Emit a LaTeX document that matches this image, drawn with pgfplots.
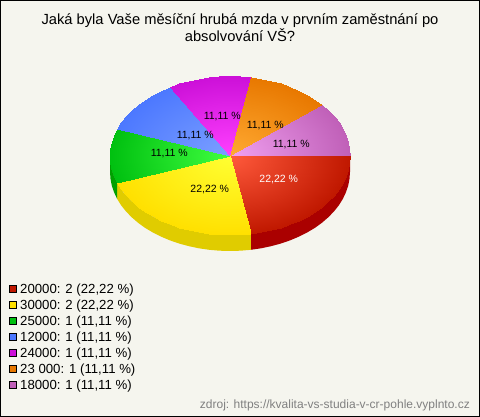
\documentclass[border=0pt]{standalone}
\usepackage{pgfplots}
\usepackage{pgfplotstable}
\usepackage{fontspec}
\setmainfont{Liberation Sans}
\pgfplotsset{compat=1.18}
\definecolor{bgc}{HTML}{F5F5EE}
\pgfplotsset{
 colormap={cred}{rgb255=(192,24,0) rgb255=(255,90,60)},
 colormap={cyel}{rgb255=(255,224,0) rgb255=(255,255,50)},
 colormap={cgre}{rgb255=(0,192,16) rgb255=(64,255,64)},
 colormap={cblu}{rgb255=(76,120,255) rgb255=(124,160,255)},
 colormap={cmag}{rgb255=(204,16,216) rgb255=(255,64,255)},
 colormap={cora}{rgb255=(232,120,0) rgb255=(255,170,50)},
 colormap={cmau}{rgb255=(192,96,184) rgb255=(240,160,240)},
 wedge/.style={surf, shader=interp, mesh/rows=2, point meta=\thisrow{c}},
}
\tikzset{
 lab/.style={font=\fontsize{10.5}{12}\selectfont, inner sep=0pt},
 leg/.style={font=\fontsize{13.2}{15}\selectfont, anchor=west, inner sep=0pt},
}
\pgfplotstableread[row sep=\\]{x y c\\
230 156 1\\230 156 1\\230 156 1\\230 156 1\\230 156 1\\230 156 1\\230 156 1\\230 156 1\\230 156 1\\230 156 1\\230 156 1\\230 156 1\\230 156 1\\230 156 1\\230 156 1\\230 156 1\\230 156 1\\
350.0 156.0 0\\349.5 162.9 0\\348.2 169.7 0\\345.9 176.4 0\\342.8 183.0 0\\338.8 189.4 0\\333.9 195.5 0\\328.3 201.3 0\\321.9 206.8 0\\314.9 211.9 0\\307.1 216.5 0\\298.8 220.7 0\\290.0 224.4 0\\280.7 227.6 0\\271.0 230.2 0\\261.1 232.3 0\\250.8 233.8 0\\
}\tRed
\pgfplotstableread[row sep=\\]{x y c\\
230 156 1\\230 156 1\\230 156 1\\230 156 1\\230 156 1\\230 156 1\\230 156 1\\230 156 1\\230 156 1\\230 156 1\\230 156 1\\230 156 1\\230 156 1\\230 156 1\\230 156 1\\230 156 1\\230 156 1\\
250.8 233.8 0\\240.5 234.7 0\\230.0 235.0 0\\219.5 234.7 0\\209.2 233.8 0\\198.9 232.3 0\\189.0 230.2 0\\179.3 227.6 0\\170.0 224.4 0\\161.2 220.7 0\\152.9 216.5 0\\145.1 211.9 0\\138.1 206.8 0\\131.7 201.3 0\\126.1 195.5 0\\121.2 189.4 0\\117.2 183.0 0\\
}\tYel
\pgfplotstableread[row sep=\\]{x y c\\
230 156 1\\230 156 1\\230 156 1\\230 156 1\\230 156 1\\230 156 1\\230 156 1\\230 156 1\\230 156 1\\
117.2 183.0 0\\114.1 176.4 0\\111.8 169.7 0\\110.5 162.9 0\\110.0 156.0 0\\110.5 149.1 0\\111.8 142.3 0\\114.1 135.6 0\\117.2 129.0 0\\
}\tGre
\pgfplotstableread[row sep=\\]{x y c\\
230 156 1\\230 156 1\\230 156 1\\230 156 1\\230 156 1\\230 156 1\\230 156 1\\230 156 1\\230 156 1\\
117.2 129.0 0\\121.2 122.4 0\\126.1 116.3 0\\131.7 110.4 0\\138.1 104.8 0\\145.1 99.6 0\\152.9 94.9 0\\161.2 90.6 0\\170.0 86.8 0\\
}\tBlu
\pgfplotstableread[row sep=\\]{x y c\\
230 156 1\\230 156 1\\230 156 1\\230 156 1\\230 156 1\\230 156 1\\230 156 1\\230 156 1\\230 156 1\\
170.0 86.8 0\\179.3 83.5 0\\189.0 80.9 0\\198.9 78.7 0\\209.2 77.2 0\\219.5 76.3 0\\230.0 76.0 0\\240.5 76.3 0\\250.8 77.2 0\\
}\tMag
\pgfplotstableread[row sep=\\]{x y c\\
230 156 1\\230 156 1\\230 156 1\\230 156 1\\230 156 1\\230 156 1\\230 156 1\\230 156 1\\230 156 1\\
250.8 77.2 0\\261.1 78.7 0\\271.0 80.9 0\\280.7 83.5 0\\290.0 86.8 0\\298.8 90.6 0\\307.1 94.9 0\\314.9 99.6 0\\321.9 104.8 0\\
}\tOra
\pgfplotstableread[row sep=\\]{x y c\\
230 156 1\\230 156 1\\230 156 1\\230 156 1\\230 156 1\\230 156 1\\230 156 1\\230 156 1\\230 156 1\\
321.9 104.8 0\\328.3 110.4 0\\333.9 116.3 0\\338.8 122.4 0\\342.8 129.0 0\\345.9 135.6 0\\348.2 142.3 0\\349.5 149.1 0\\350.0 156.0 0\\
}\tMau
\begin{document}
\begin{tikzpicture}
\begin{axis}[
 scale only axis, width=480pt, height=417pt,
 xmin=0, xmax=480, ymin=0, ymax=417, y dir=reverse,
 hide axis, clip=false, point meta min=0, point meta max=1,
]
\draw[black, line width=1pt, fill=bgc] (axis cs:0.5,0.5) rectangle (axis cs:479.5,416.5);
% side walls
\addplot[draw=none, fill={rgb,255:red,170;green,0;blue,0}] coordinates {(350.0,156.0)(349.5,162.9)(348.2,169.7)(345.9,176.4)(342.8,183.0)(338.8,189.4)(333.9,195.5)(328.3,201.3)(321.9,206.8)(314.9,211.9)(307.1,216.5)(298.8,220.7)(290.0,224.4)(280.7,227.6)(271.0,230.2)(261.1,232.3)(250.8,233.8)(250.8,249.8)(261.1,248.3)(271.0,246.2)(280.7,243.6)(290.0,240.4)(298.8,236.7)(307.1,232.5)(314.9,227.9)(321.9,222.8)(328.3,217.3)(333.9,211.5)(338.8,205.4)(342.8,199.0)(345.9,192.4)(348.2,185.7)(349.5,178.9)(350.0,172.0)} -- cycle;
\addplot[draw=none, fill={rgb,255:red,224;green,204;blue,0}] coordinates {(250.8,233.8)(240.5,234.7)(230.0,235.0)(219.5,234.7)(209.2,233.8)(198.9,232.3)(189.0,230.2)(179.3,227.6)(170.0,224.4)(161.2,220.7)(152.9,216.5)(145.1,211.9)(138.1,206.8)(131.7,201.3)(126.1,195.5)(121.2,189.4)(117.2,183.0)(117.2,199.0)(121.2,205.4)(126.1,211.5)(131.7,217.3)(138.1,222.8)(145.1,227.9)(152.9,232.5)(161.2,236.7)(170.0,240.4)(179.3,243.6)(189.0,246.2)(198.9,248.3)(209.2,249.8)(219.5,250.7)(230.0,251.0)(240.5,250.7)(250.8,249.8)} -- cycle;
\addplot[draw=none, fill={rgb,255:red,0;green,160;blue,0}] coordinates {(117.2,183.0)(114.1,176.4)(111.8,169.7)(110.5,162.9)(110.0,156.0)(110.0,172.0)(110.5,178.9)(111.8,185.7)(114.1,192.4)(117.2,199.0)} -- cycle;
% top wedges
\addplot[wedge, colormap name=cred] table[x=x,y=y] {\tRed};
\addplot[wedge, colormap name=cyel] table[x=x,y=y] {\tYel};
\addplot[wedge, colormap name=cgre] table[x=x,y=y] {\tGre};
\addplot[wedge, colormap name=cblu] table[x=x,y=y] {\tBlu};
\addplot[wedge, colormap name=cmag] table[x=x,y=y] {\tMag};
\addplot[wedge, colormap name=cora] table[x=x,y=y] {\tOra};
\addplot[wedge, colormap name=cmau] table[x=x,y=y] {\tMau};
% slice labels
\node[lab, white] at (axis cs:278.7,180) {22,22 \%};
\node[lab] at (axis cs:209.7,189.3) {22,22 \%};
\node[lab] at (axis cs:169.3,153.3) {11,11 \%};
\node[lab] at (axis cs:195.3,135.3) {11,11 \%};
\node[lab] at (axis cs:222.3,117) {11,11 \%};
\node[lab] at (axis cs:265.3,126) {11,11 \%};
\node[lab] at (axis cs:291.3,144.3) {11,11 \%};
% legend
\addplot[only marks, mark=square*, mark size=3.5pt, mark options={draw=black, line width=0.8pt, fill={rgb,255:red,192;green,24;blue,0}}] coordinates {(13,289.3)};
\addplot[only marks, mark=square*, mark size=3.5pt, mark options={draw=black, line width=0.8pt, fill={rgb,255:red,255;green,224;blue,0}}] coordinates {(13,305.3)};
\addplot[only marks, mark=square*, mark size=3.5pt, mark options={draw=black, line width=0.8pt, fill={rgb,255:red,0;green,192;blue,16}}] coordinates {(13,321.3)};
\addplot[only marks, mark=square*, mark size=3.5pt, mark options={draw=black, line width=0.8pt, fill={rgb,255:red,76;green,120;blue,255}}] coordinates {(13,337.3)};
\addplot[only marks, mark=square*, mark size=3.5pt, mark options={draw=black, line width=0.8pt, fill={rgb,255:red,204;green,16;blue,216}}] coordinates {(13,353.3)};
\addplot[only marks, mark=square*, mark size=3.5pt, mark options={draw=black, line width=0.8pt, fill={rgb,255:red,232;green,120;blue,0}}] coordinates {(13,369.3)};
\addplot[only marks, mark=square*, mark size=3.5pt, mark options={draw=black, line width=0.8pt, fill={rgb,255:red,192;green,96;blue,184}}] coordinates {(13,385.3)};
\node[leg] at (axis cs:20,290) {20000: 2 (22,22 \%)};
\node[leg] at (axis cs:20,306) {30000: 2 (22,22 \%)};
\node[leg] at (axis cs:20,322) {25000: 1 (11,11 \%)};
\node[leg] at (axis cs:20,338) {12000: 1 (11,11 \%)};
\node[leg] at (axis cs:20,354) {24000: 1 (11,11 \%)};
\node[leg] at (axis cs:20,370) {23 000: 1 (11,11 \%)};
\node[leg] at (axis cs:20,386) {18000: 1 (11,11 \%)};
% title and source
\node[font=\fontsize{14.7}{15.5}\selectfont, align=center, inner sep=0pt, text=black] at (axis cs:240,27.5) {Jaká byla Vaše měsíční hrubá mzda v prvním zaměstnání po\\absolvování VŠ?};
\node[font=\fontsize{12}{14}\selectfont, anchor=east, inner sep=0pt, text={rgb,255:red,128;green,128;blue,128}] at (axis cs:470,405.5) {zdroj: https://kvalita-vs-studia-v-cr-pohle.vyplnto.cz};
\end{axis}
\end{tikzpicture}
\end{document}
